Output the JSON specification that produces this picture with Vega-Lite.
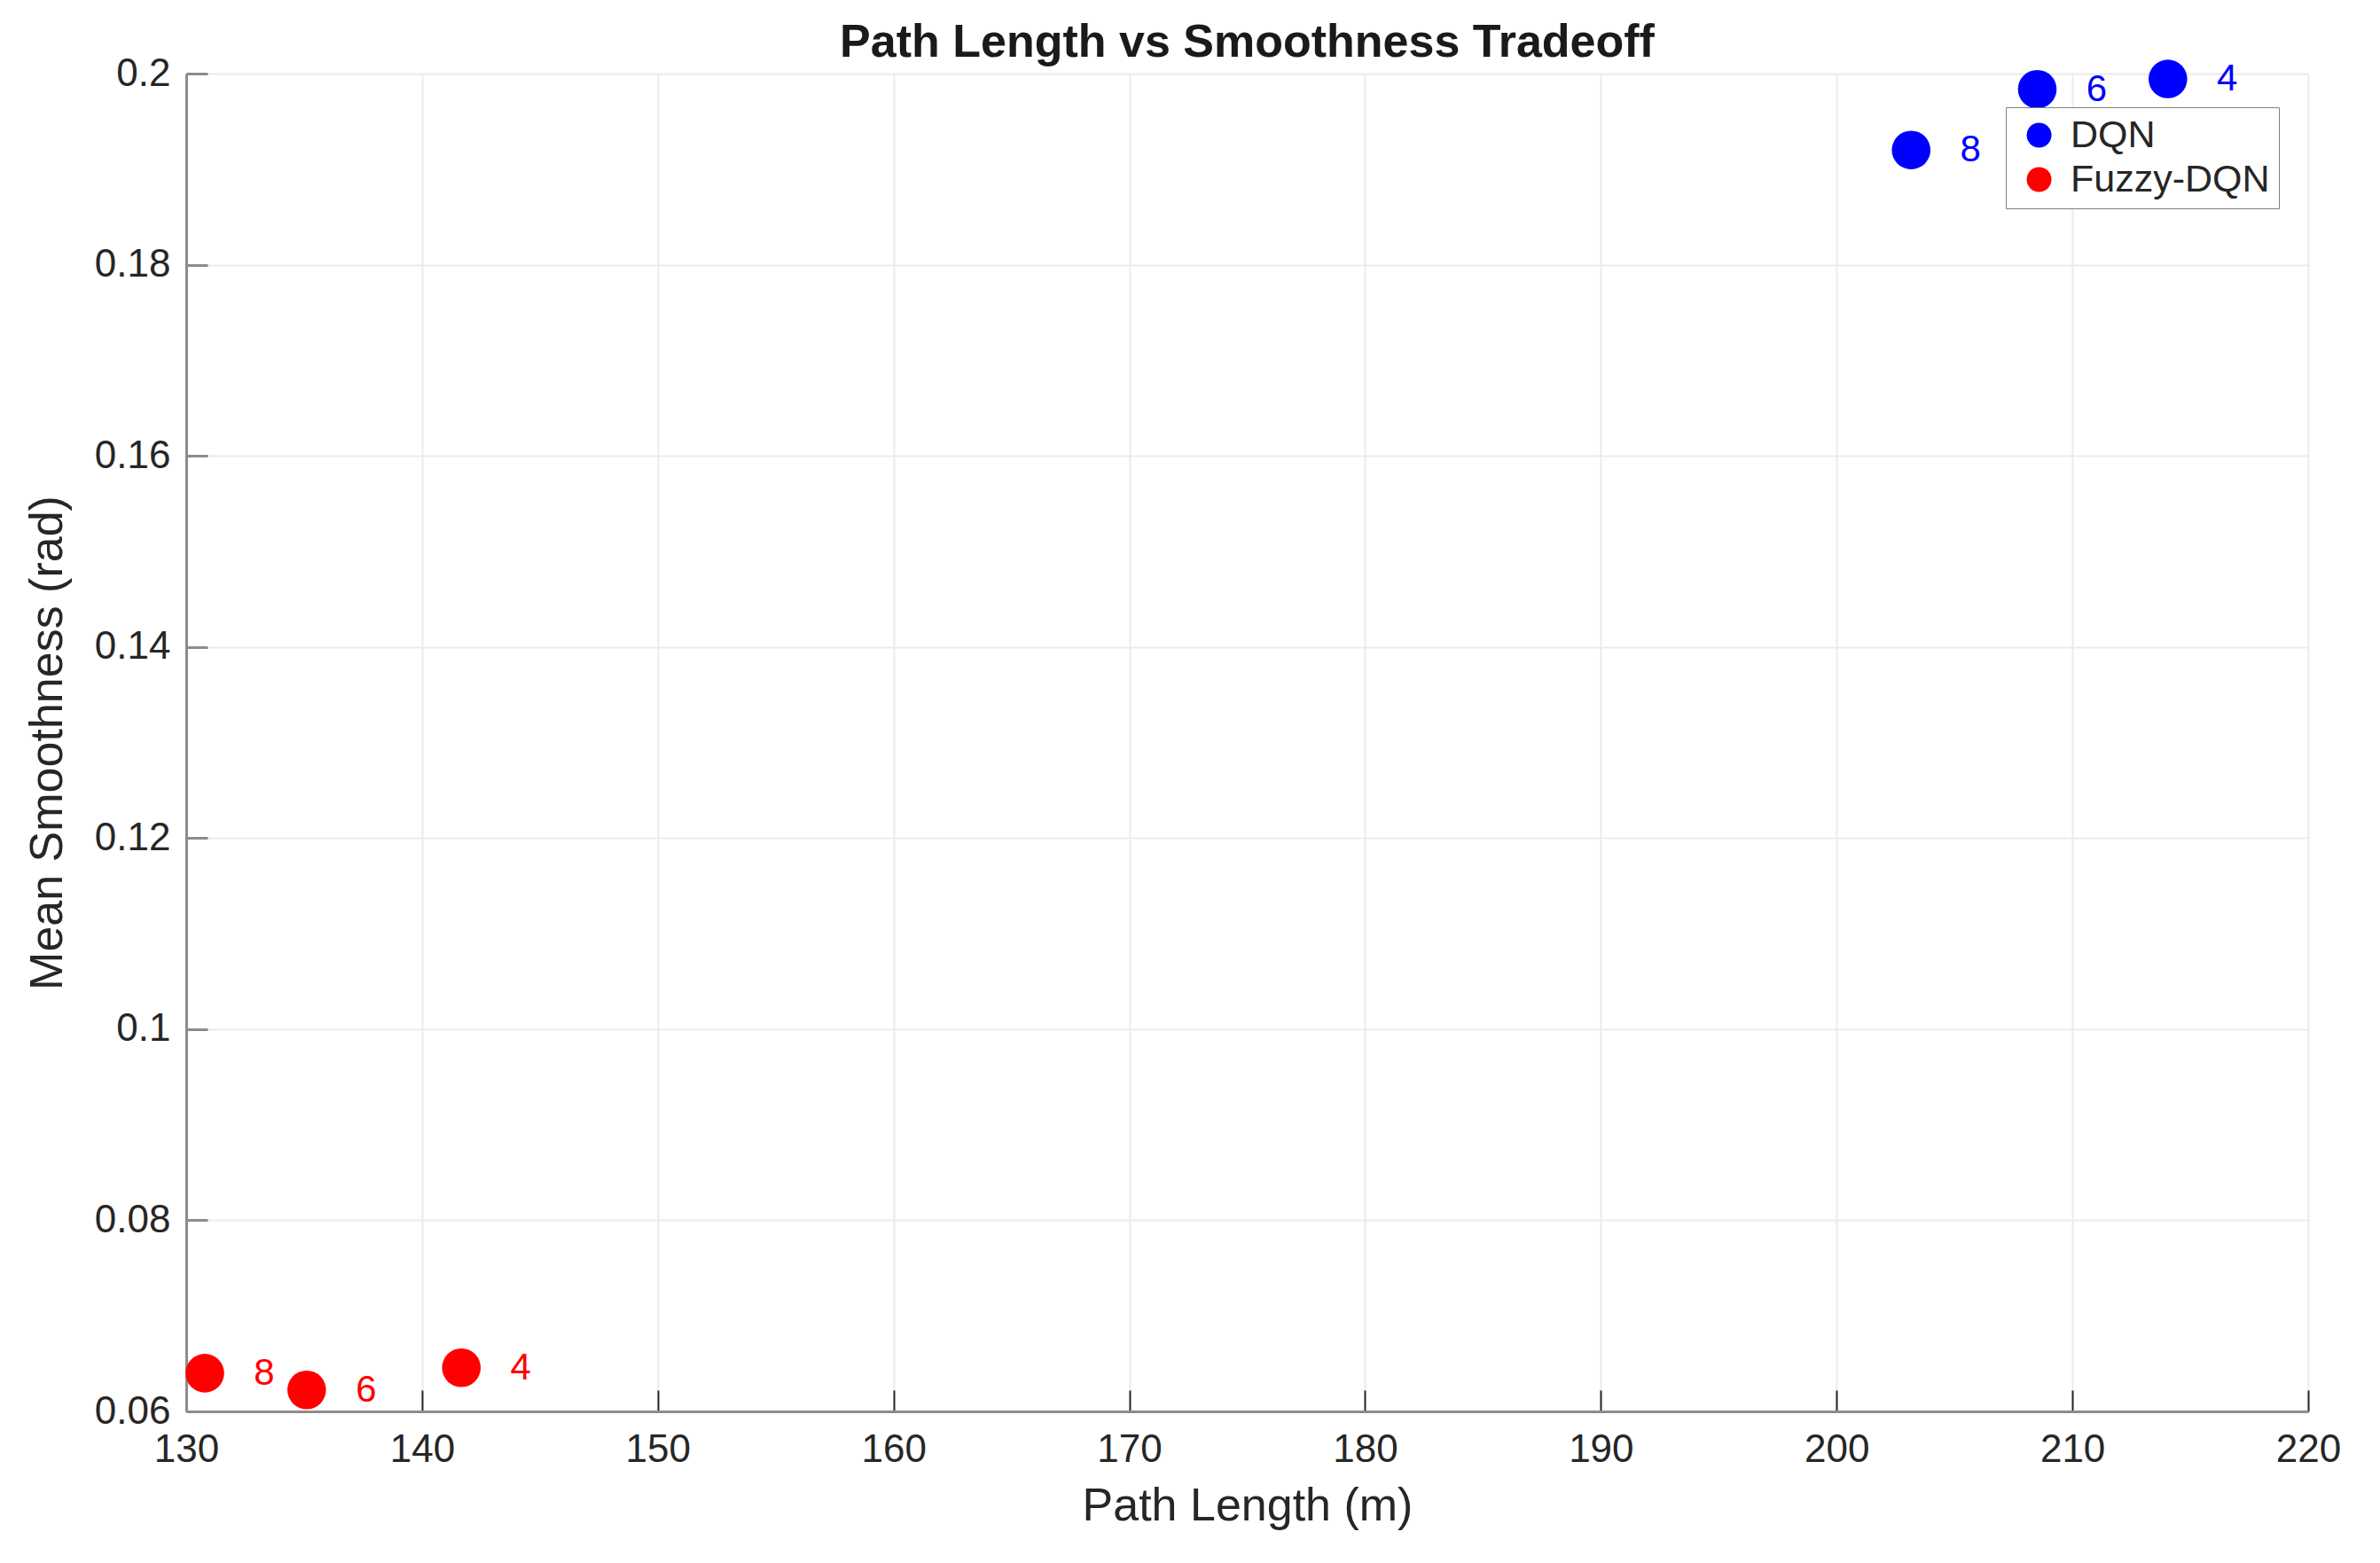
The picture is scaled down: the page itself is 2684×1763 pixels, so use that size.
{
  "$schema": "https://vega.github.io/schema/vega-lite/v6.json",
  "autosize": "none",
  "width": 2393,
  "height": 1509,
  "padding": {"left": 210, "top": 83, "right": 81, "bottom": 171},
  "background": "white",
  "title": {
    "text": "Path Length vs Smoothness Tradeoff",
    "font": "Liberation Sans",
    "fontSize": 52,
    "fontWeight": "bold",
    "color": "#1a1a1a",
    "anchor": "middle",
    "baseline": "alphabetic",
    "offset": 18,
    "dy": 73
  },
  "config": {
    "view": {"stroke": null},
    "font": "Liberation Sans"
  },
  "data": {
    "values": [
      {"method": "DQN", "n": "4", "path_length": 214.05, "smoothness": 0.19944},
      {"method": "DQN", "n": "6", "path_length": 208.51, "smoothness": 0.19836},
      {"method": "DQN", "n": "8", "path_length": 203.16, "smoothness": 0.1920},
      {"method": "Fuzzy-DQN", "n": "4", "path_length": 141.67, "smoothness": 0.06457},
      {"method": "Fuzzy-DQN", "n": "6", "path_length": 135.11, "smoothness": 0.06225},
      {"method": "Fuzzy-DQN", "n": "8", "path_length": 130.79, "smoothness": 0.0640}
    ]
  },
  "encoding": {
    "x": {
      "field": "path_length",
      "type": "quantitative",
      "scale": {"domain": [130, 220], "nice": false, "zero": false},
      "axis": {
        "title": "Path Length (m)",
        "values": [130, 140, 150, 160, 170, 180, 190, 200, 210, 220],
        "labelFont": "Liberation Sans",
        "labelFontSize": 44,
        "labelColor": "#262626",
        "labelPadding": 45,
        "labelFlush": false,
        "titleFont": "Liberation Sans",
        "titleFontSize": 52,
        "titleFontWeight": "normal",
        "titleColor": "#262626",
        "titlePadding": 16,
        "domainColor": "#8c8c8c",
        "domainWidth": 3,
        "tickColor": "#262626",
        "tickWidth": 2,
        "tickSize": -24,
        "grid": true,
        "gridColor": "#ebebeb",
        "gridWidth": 2
      }
    },
    "y": {
      "field": "smoothness",
      "type": "quantitative",
      "scale": {"domain": [0.06, 0.2], "nice": false, "zero": false},
      "axis": {
        "title": "Mean Smoothness (rad)",
        "values": [0.06, 0.08, 0.1, 0.12, 0.14, 0.16, 0.18, 0.2],
        "labelExpr": "replace(format(datum.value, '.2~f'), /^0\\.20$/, '0.2')",
        "labelFont": "Liberation Sans",
        "labelFontSize": 44,
        "labelColor": "#262626",
        "labelPadding": 42,
        "labelFlush": false,
        "titleFont": "Liberation Sans",
        "titleFontSize": 52,
        "titleFontWeight": "normal",
        "titleColor": "#262626",
        "titlePadding": 26,
        "domainColor": "#8c8c8c",
        "domainWidth": 3,
        "tickColor": "#8c8c8c",
        "tickWidth": 3,
        "tickSize": -24,
        "grid": true,
        "gridColor": "#ebebeb",
        "gridWidth": 2
      }
    },
    "color": {
      "field": "method",
      "type": "nominal",
      "scale": {"domain": ["DQN", "Fuzzy-DQN"], "range": ["#0000ff", "#ff0000"]}
    }
  },
  "layer": [
    {
      "mark": {"type": "circle", "size": 1900, "opacity": 1},
      "encoding": {
        "color": {
          "field": "method",
          "type": "nominal",
          "scale": {"domain": ["DQN", "Fuzzy-DQN"], "range": ["#0000ff", "#ff0000"]},
          "legend": {
            "title": null,
            "orient": "none",
            "legendX": 2052,
            "legendY": 38,
            "padding": 10,
            "symbolOffset": 6,
            "symbolType": "circle",
            "symbolSize": 784,
            "symbolStrokeWidth": 0,
            "labelFont": "Liberation Sans",
            "labelFontSize": 43,
            "labelLimit": 1000,
            "labelColor": "#262626",
            "labelOffset": 14,
            "rowPadding": 6,
            "strokeColor": "#7f7f7f",
            "fillColor": "white",
            "cornerRadius": 0
          }
        }
      }
    },
    {
      "mark": {"type": "text", "dx": 67, "dy": 0, "align": "center", "baseline": "middle", "font": "Liberation Sans", "fontSize": 42},
      "encoding": {
        "text": {"field": "n", "type": "nominal"},
        "color": {"field": "method", "type": "nominal", "legend": null}
      }
    }
  ]
}
